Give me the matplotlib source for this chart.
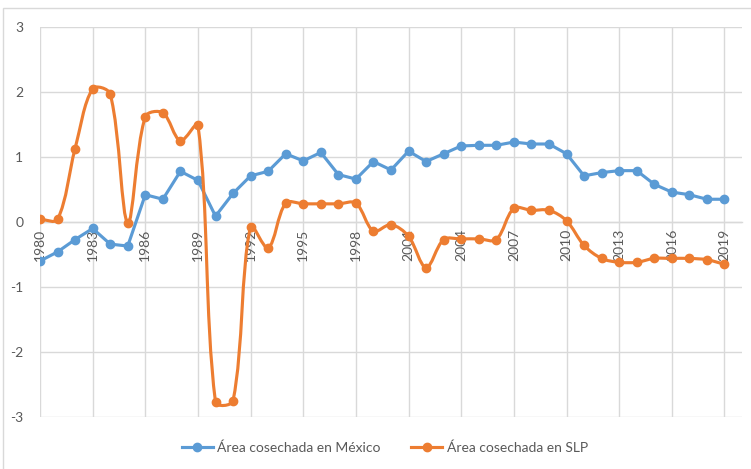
import numpy as np
import matplotlib
matplotlib.use("Agg")
import matplotlib.pyplot as plt
from matplotlib.path import Path
from matplotlib.patches import PathPatch, Rectangle
from matplotlib.lines import Line2D

plt.rcParams["font.family"] = ["Lato", "DejaVu Sans"]
plt.rcParams["axes.unicode_minus"] = False

# data
years = list(range(1980, 2020))
mexico = [-0.60, -0.46, -0.27, -0.10, -0.34, -0.37, 0.42, 0.35, 0.78, 0.64,
          0.09, 0.44, 0.71, 0.78, 1.05, 0.94, 1.07, 0.73, 0.66, 0.93,
          0.80, 1.09, 0.93, 1.05, 1.17, 1.18, 1.18, 1.23, 1.20, 1.20,
          1.05, 0.71, 0.76, 0.79, 0.79, 0.58, 0.46, 0.42, 0.35, 0.35]
slp = [0.04, 0.04, 1.13, 2.05, 1.97, -0.01, 1.62, 1.68, 1.25, 1.49,
       -2.77, -2.75, -0.07, -0.40, 0.29, 0.28, 0.28, 0.28, 0.29, -0.14,
       -0.04, -0.22, -0.70, -0.27, -0.26, -0.26, -0.27, 0.21, 0.18, 0.18,
       0.02, -0.36, -0.56, -0.62, -0.62, -0.56, -0.56, -0.56, -0.58, -0.65]
tick_years = list(range(1980, 2020, 3))
y_ticks = [-3, -2, -1, 0, 1, 2, 3]
labels = ["Área cosechada en México", "Área cosechada en SLP"]

BLUE = "#5B9BD5"
ORANGE = "#ED7D31"
GRID = "#D9D9D9"
TEXT = "#595959"


def smooth_path(xs, ys, sx, sy, t=1 / 3):
    # Excel-like smoothed line: bezier handles scaled by neighbouring segment lengths
    pts = np.column_stack([xs, ys]).astype(float)
    scr = pts * [sx, sy]
    n = len(pts)
    before = [pts[0]] * n
    after = [pts[-1]] * n
    for i in range(n):
        p0 = max(i - 1, 0)
        p2 = min(i + 1, n - 1)
        d01 = np.hypot(*(scr[i] - scr[p0]))
        d12 = np.hypot(*(scr[p2] - scr[i]))
        tot = d01 + d12
        if tot == 0:
            before[i] = after[i] = pts[i]
            continue
        tan = pts[p2] - pts[p0]
        before[i] = pts[i] - t * d01 / tot * tan
        after[i] = pts[i] + t * d12 / tot * tan
    verts = [pts[0]]
    codes = [Path.MOVETO]
    for i in range(n - 1):
        verts += [after[i], before[i + 1], pts[i + 1]]
        codes += [Path.CURVE4] * 3
    return Path(verts, codes)


fig = plt.figure(figsize=(7.51, 4.69), dpi=100)
ax = fig.add_axes([40 / 751, 52 / 469, 702 / 751, 390 / 469])

for s in ["top", "right", "left"]:
    ax.spines[s].set_visible(False)
ax.spines["bottom"].set_position(("data", 0))
ax.spines["bottom"].set_color(GRID)
ax.spines["bottom"].set_linewidth(1.0)

ax.plot(years, mexico, color=BLUE, lw=2.25, marker="o", ms=6, zorder=3)
ax.add_patch(PathPatch(smooth_path(years, slp, 17.55, 65.0), fill=False,
                       edgecolor=ORANGE, lw=2.25, zorder=4,
                       capstyle="round", joinstyle="round"))
ax.plot(years, slp, color=ORANGE, ls="none", marker="o", ms=6, zorder=5)

ax.set_xlim(1980, 2020)
ax.set_ylim(-3, 3)
ax.set_xticks(tick_years)
ax.set_xticklabels([str(y) for y in tick_years], rotation=90, fontsize=10, color=TEXT)
ax.set_yticks(y_ticks)
ax.set_yticklabels([str(v) for v in y_ticks], fontsize=10, color=TEXT)
ax.tick_params(axis="both", length=0)
ax.tick_params(axis="x", pad=5)
ax.tick_params(axis="y", pad=12)
ax.grid(True, color=GRID, lw=1.0)
ax.set_axisbelow(True)

handles = [
    Line2D([], [], color=BLUE, lw=2.25, marker="o", ms=6),
    Line2D([], [], color=ORANGE, lw=2.25, marker="o", ms=6),
]
leg = fig.legend(handles, labels, loc="center", bbox_to_anchor=(385 / 751, 1 - 448 / 469),
                 ncol=2, frameon=False, fontsize=10, handlelength=2.2,
                 handletextpad=0.35, columnspacing=2.2)
for t in leg.get_texts():
    t.set_color(TEXT)

fig.patches.append(Rectangle((3 / 751, -0.02), 1.0, 1 - 8 / 469 + 0.02,
                             transform=fig.transFigure, fill=False,
                             edgecolor=GRID, lw=1.0))

fig.savefig("out.png", dpi=100)
